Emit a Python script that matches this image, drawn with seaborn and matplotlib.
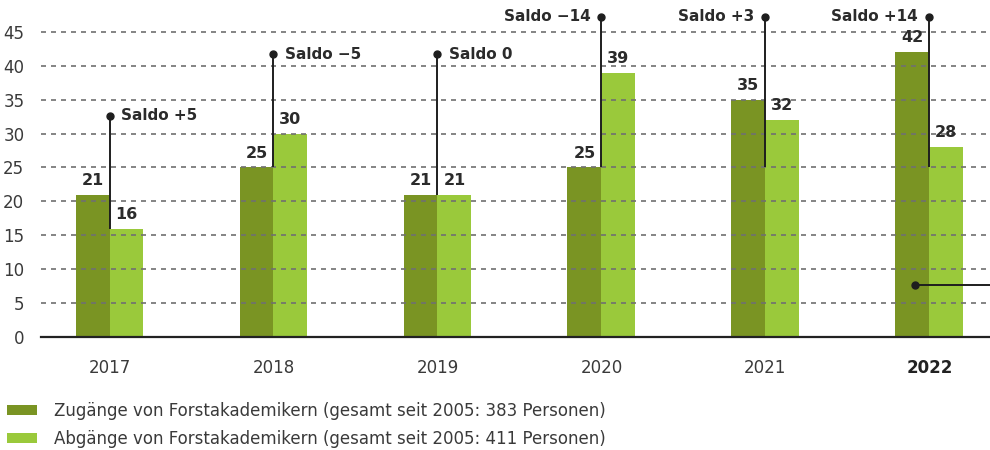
import matplotlib
matplotlib.use("Agg")
import matplotlib.pyplot as plt
from matplotlib.patches import Patch
import seaborn as sns
import pandas as pd

# Data
years = ["2017", "2018", "2019", "2020", "2021", "2022"]
zugaenge = [21, 25, 21, 25, 35, 42]
abgaenge = [16, 30, 21, 39, 32, 28]
series_names = [
    "Zugänge von Forstakademikern (gesamt seit 2005: 383 Personen)",
    "Abgänge von Forstakademikern (gesamt seit 2005: 411 Personen)",
]
y_ticks = [0, 5, 10, 15, 20, 25, 30, 35, 40, 45]

# Layout of the balance callouts (line bottom / dot height in data units)
saldo_line_bottom = [16, 25, 21, 25, 25, 25]
saldo_dot_top = [32.6, 41.7, 41.7, 47.2, 47.2, 47.2]
saldo_text_right = [True, True, True, False, False, False]

DARK = "#7a9423"
LIGHT = "#9ac93b"
TXT = "#2b2b2b"

sns.set_theme(style="white")
plt.rcParams["font.family"] = ["DejaVu Sans"]

df = pd.DataFrame({
    "Jahr": years * 2,
    "Anzahl": zugaenge + abgaenge,
    "Serie": [series_names[0]] * len(years) + [series_names[1]] * len(years),
})

fig = plt.figure(figsize=(9.9, 4.5), dpi=100)
ax = fig.add_axes([41 / 990, 113 / 450, 949 / 990, 337 / 450])

sns.barplot(data=df, x="Jahr", y="Anzahl", hue="Serie", order=years,
            hue_order=series_names, palette=[DARK, LIGHT], width=0.414,
            gap=0, saturation=1, linewidth=0, legend=False, ax=ax, zorder=1)

ax.set_xlim(-0.418, 5.37)
ax.set_ylim(0, 49.7)
ax.set_yticks(y_ticks)
ax.set_xlabel("")
ax.set_ylabel("")

# dashed grid drawn on top of the bars
ax.set_axisbelow(False)
ax.yaxis.grid(True, linestyle=(0, (3, 3)), color="#707070", linewidth=1.2)
ax.xaxis.grid(False)
for s in ["top", "right", "left"]:
    ax.spines[s].set_visible(False)
ax.spines["bottom"].set_color("#222222")
ax.spines["bottom"].set_linewidth(1.6)
ax.spines["bottom"].set_zorder(5)

ax.tick_params(axis="y", length=0, pad=12, labelsize=12, labelcolor="#3a3a3a")
ax.tick_params(axis="x", length=0, pad=16, labelsize=12, labelcolor="#3a3a3a")
for lbl in ax.get_xticklabels():
    if lbl.get_text() == years[-1]:
        lbl.set_fontweight("bold")
        lbl.set_color("#222222")

off = 0.414 / 4
# value labels
for i, (z, a) in enumerate(zip(zugaenge, abgaenge)):
    ax.annotate(str(z), (i - off, z), xytext=(0, 5), textcoords="offset points",
                ha="center", va="bottom", fontsize=11.5, fontweight="bold",
                color=TXT, zorder=6)
    ax.annotate(str(a), (i + off, a), xytext=(0, 5), textcoords="offset points",
                ha="center", va="bottom", fontsize=11.5, fontweight="bold",
                color=TXT, zorder=6)

# balance callouts
for i, (z, a) in enumerate(zip(zugaenge, abgaenge)):
    saldo = z - a
    if saldo > 0:
        txt = f"Saldo +{saldo}"
    elif saldo < 0:
        txt = f"Saldo \u2212{abs(saldo)}"
    else:
        txt = "Saldo 0"
    ax.plot([i, i], [saldo_line_bottom[i], saldo_dot_top[i]], color="#1e1e1e",
            lw=1.4, zorder=6, clip_on=False, solid_capstyle="butt")
    ax.plot([i], [saldo_dot_top[i]], marker="o", ms=5, color="#1e1e1e",
            zorder=7, clip_on=False)
    if saldo_text_right[i]:
        ax.annotate(txt, (i, saldo_dot_top[i]), xytext=(8, 0),
                    textcoords="offset points", ha="left", va="center",
                    fontsize=11, fontweight="bold", color=TXT,
                    annotation_clip=False)
    else:
        ax.annotate(txt, (i, saldo_dot_top[i]), xytext=(-8, 0),
                    textcoords="offset points", ha="right", va="center",
                    fontsize=11, fontweight="bold", color=TXT,
                    annotation_clip=False)

# pointer from the current year towards the side text
ax.plot([5 - 0.085, 5.37], [7.6, 7.6], color="#1e1e1e", lw=1.4, zorder=6,
        clip_on=False)
ax.plot([5 - 0.085], [7.6], marker="o", ms=5, color="#1e1e1e", zorder=7,
        clip_on=False)

handles = [Patch(facecolor=DARK, edgecolor="none"),
           Patch(facecolor=LIGHT, edgecolor="none")]
fig.legend(handles, series_names, loc="upper left",
           bbox_to_anchor=(2 / 990, 1 - 397 / 450), frameon=False,
           fontsize=12, handlelength=1.8, handleheight=0.6,
           handletextpad=1.05, labelspacing=0.6, labelcolor="#3a3a3a",
           borderaxespad=0, borderpad=0.3)

fig.savefig("out.png", dpi=100)
